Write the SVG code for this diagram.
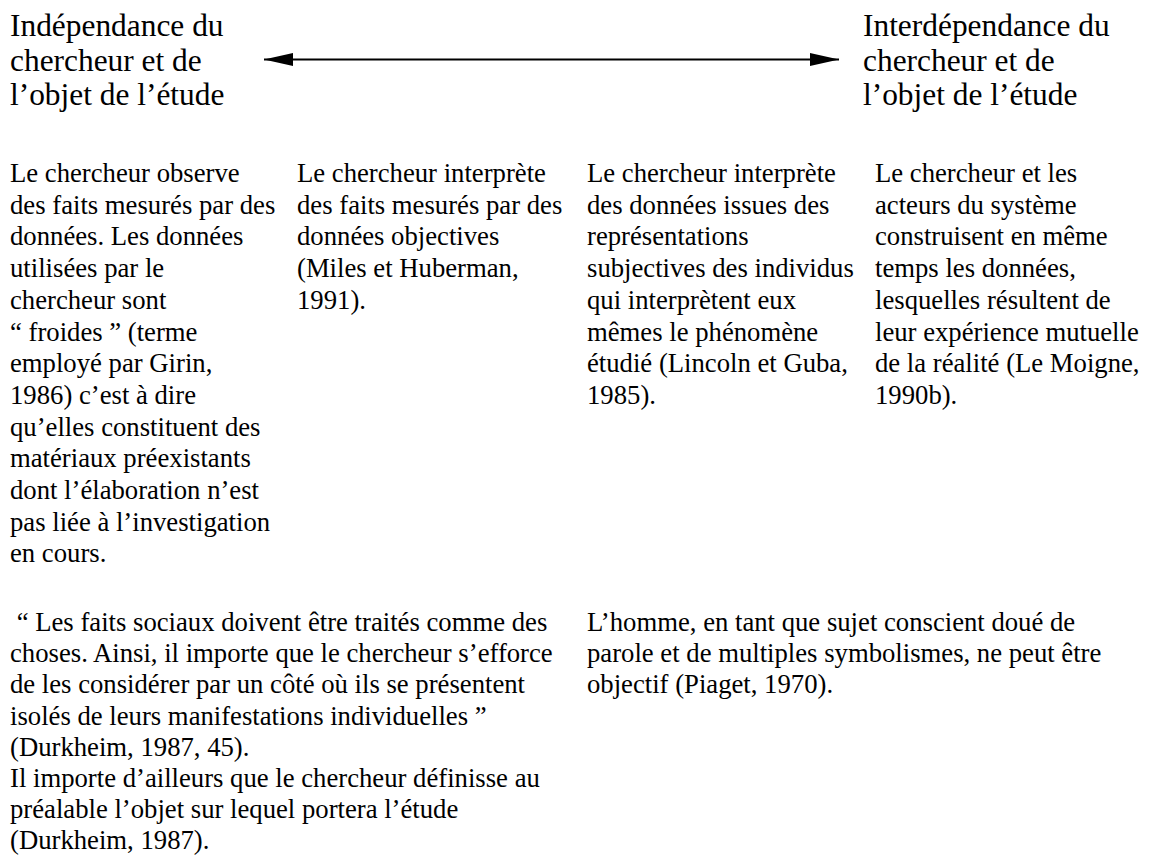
<svg xmlns="http://www.w3.org/2000/svg" width="1149" height="857" viewBox="0 0 1149 857">
<style>
.t{font-family:'Liberation Serif','Times New Roman','DejaVu Serif',serif;font-size:31.4px;fill:#000}
.b{font-family:'Liberation Serif','Times New Roman','DejaVu Serif',serif;font-size:26.7px;fill:#000}
</style>
<defs>
<marker id="ah" viewBox="0 0 29 13" refX="29" refY="6.5" markerWidth="29" markerHeight="13" markerUnits="userSpaceOnUse" orient="auto-start-reverse">
<path d="M0,0 L29,6.5 L0,13 Z" fill="#000"/>
</marker>
</defs>
<rect width="1149" height="857" fill="#fff"/>
<g id="left-title">
<text class="t"><tspan x="10" y="36">Indépendance du</tspan><tspan x="10" y="70.5">chercheur et de</tspan><tspan x="10" y="105">l’objet de l’étude</tspan></text>
</g>
<g id="right-title">
<text class="t"><tspan x="863" y="36">Interdépendance du</tspan><tspan x="863" y="70.5">chercheur et de</tspan><tspan x="863" y="105">l’objet de l’étude</tspan></text>
</g>
<g id="connectors">
<line x1="264" y1="59.5" x2="839" y2="59.5" stroke="#000" stroke-width="1.8" marker-start="url(#ah)" marker-end="url(#ah)"/>
</g>
<g id="col1">
<text class="b"><tspan x="10" y="182">Le chercheur observe</tspan><tspan x="10" y="213.7">des faits mesurés par des</tspan><tspan x="10" y="245.4">données. Les données</tspan><tspan x="10" y="277.1">utilisées par le</tspan><tspan x="10" y="308.8">chercheur sont</tspan><tspan x="10" y="340.5">“ froides ” (terme</tspan><tspan x="10" y="372.2">employé par Girin,</tspan><tspan x="10" y="403.9">1986) c’est à dire</tspan><tspan x="10" y="435.6">qu’elles constituent des</tspan><tspan x="10" y="467.3">matériaux préexistants</tspan><tspan x="10" y="499">dont l’élaboration n’est</tspan><tspan x="10" y="530.7">pas liée à l’investigation</tspan><tspan x="10" y="562.4">en cours.</tspan></text>
</g>
<g id="col2">
<text class="b"><tspan x="297" y="182">Le chercheur interprète</tspan><tspan x="297" y="213.7">des faits mesurés par des</tspan><tspan x="297" y="245.4">données objectives</tspan><tspan x="297" y="277.1">(Miles et Huberman,</tspan><tspan x="297" y="308.8">1991).</tspan></text>
</g>
<g id="col3">
<text class="b"><tspan x="587" y="182">Le chercheur interprète</tspan><tspan x="587" y="213.7">des données issues des</tspan><tspan x="587" y="245.4">représentations</tspan><tspan x="587" y="277.1">subjectives des individus</tspan><tspan x="587" y="308.8">qui interprètent eux</tspan><tspan x="587" y="340.5">mêmes le phénomène</tspan><tspan x="587" y="372.2">étudié (Lincoln et Guba,</tspan><tspan x="587" y="403.9">1985).</tspan></text>
</g>
<g id="col4">
<text class="b"><tspan x="875" y="182">Le chercheur et les</tspan><tspan x="875" y="213.7">acteurs du système</tspan><tspan x="875" y="245.4">construisent en même</tspan><tspan x="875" y="277.1">temps les données,</tspan><tspan x="875" y="308.8">lesquelles résultent de</tspan><tspan x="875" y="340.5">leur expérience mutuelle</tspan><tspan x="875" y="372.2">de la réalité (Le Moigne,</tspan><tspan x="875" y="403.9">1990b).</tspan></text>
</g>
<g id="bottom-left">
<text class="b" xml:space="preserve"><tspan x="10" y="631"> “ Les faits sociaux doivent être traités comme des</tspan><tspan x="10" y="662.2">choses. Ainsi, il importe que le chercheur s’efforce</tspan><tspan x="10" y="693.4">de les considérer par un côté où ils se présentent</tspan><tspan x="10" y="724.6">isolés de leurs manifestations individuelles ”</tspan><tspan x="10" y="755.8">(Durkheim, 1987, 45).</tspan><tspan x="10" y="787">Il importe d’ailleurs que le chercheur définisse au</tspan><tspan x="10" y="818.2">préalable l’objet sur lequel portera l’étude</tspan><tspan x="10" y="849.4">(Durkheim, 1987).</tspan></text>
</g>
<g id="bottom-right">
<text class="b"><tspan x="587" y="631">L’homme, en tant que sujet conscient doué de</tspan><tspan x="587" y="662.2">parole et de multiples symbolismes, ne peut être</tspan><tspan x="587" y="693.4">objectif (Piaget, 1970).</tspan></text>
</g>
</svg>
